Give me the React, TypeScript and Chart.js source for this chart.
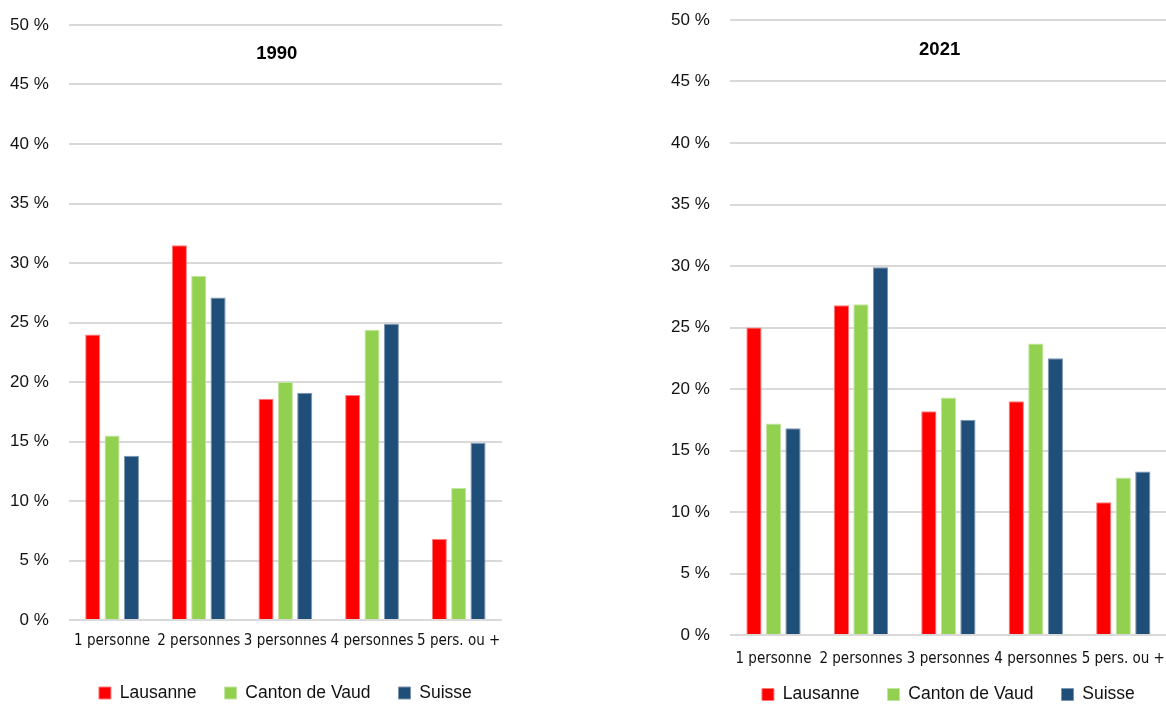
import React, { useEffect, useRef } from "react";
import { Chart, registerables } from "chart.js";

Chart.register(...registerables);

// ---------- data ----------
const categories = ["1 personne", "2 personnes", "3 personnes", "4 personnes", "5 pers. ou +"];
const seriesNames = ["Lausanne", "Canton de Vaud", "Suisse"];

const lausanne1990 = [24.0, 31.5, 18.6, 18.9, 6.8];
const vaud1990 = [15.5, 28.9, 20.0, 24.4, 11.1];
const suisse1990 = [13.8, 27.1, 19.1, 24.9, 14.9];

const lausanne2021 = [25.0, 26.8, 18.2, 19.0, 10.8];
const vaud2021 = [17.2, 26.9, 19.3, 23.7, 12.8];
const suisse2021 = [16.8, 29.9, 17.5, 22.5, 13.3];

const yMin = 0;
const yMax = 50;
const yStep = 5;

// ---------- styles ----------
const barColors = ["#FF0000", "#92D050", "#1F4E79"];
const barBorders = ["#FF7A7A", "#C2E59F", "#7C95B0"];
const TEXT = "#111111";
const SANS = '"Liberation Sans", Arial, sans-serif';
const NARROW = '"DejaVu Sans Condensed", "Liberation Sans", sans-serif';

type PanelProps = {
  title: string;
  series: number[][];
  left: number;
  width: number;
  pad: { left: number; right: number; top: number; bottom: number };
  xTickPad: number;
  legendCenterY: number;
  titleOffsetY: number;
};

const LEGEND_PAD = 28;
const LEGEND_FONT = 17.5;

function Panel(props: PanelProps) {
  const ref = useRef<HTMLCanvasElement>(null);

  useEffect(() => {
    const canvas = ref.current;
    if (!canvas) return;

    const innerTitle = {
      id: "innerTitle",
      afterDraw(chart: any) {
        const { ctx, chartArea } = chart;
        ctx.save();
        ctx.font = `bold 18.5px ${SANS}`;
        ctx.fillStyle = "#000";
        ctx.textAlign = "center";
        ctx.textBaseline = "middle";
        ctx.fillText(
          props.title,
          chartArea.left + chartArea.width * 0.48,
          chartArea.top + props.titleOffsetY
        );
        ctx.restore();
      },
    };

    const legendPlace = {
      id: "legendPlace",
      beforeInit(chart: any) {
        const lg = chart.legend;
        if (!lg) return;
        const orig = lg.fit;
        lg.fit = function () {
          orig.call(this);
          this.height = 30;
        };
      },
      afterLayout(chart: any) {
        const lg = chart.legend;
        const ca = chart.chartArea;
        if (!lg || !ca) return;
        const dx = (ca.left + ca.right) / 2 - (lg.left + lg.right) / 2;
        lg.left += dx;
        lg.right += dx;
        lg.top = props.legendCenterY - LEGEND_FONT / 2 - LEGEND_PAD;
        lg.bottom = chart.height;
        lg.height = lg.bottom - lg.top;
      },
    };

    const chart = new Chart(canvas, {
      type: "bar",
      data: {
        labels: categories,
        datasets: seriesNames.map((name, i) => ({
          label: name,
          data: props.series[i],
          backgroundColor: barColors[i],
          borderColor: barBorders[i],
          borderWidth: 1,
          barPercentage: 0.78,
          categoryPercentage: 0.67,
        })),
      },
      options: {
        responsive: false,
        animation: false,
        layout: { padding: props.pad },
        scales: {
          x: {
            grid: { display: false, drawTicks: false },
            border: { display: false },
            ticks: {
              color: TEXT,
              font: { family: NARROW, size: 15 },
              padding: props.xTickPad,
              maxRotation: 0,
              minRotation: 0,
              autoSkip: false,
            },
            afterFit(scale: any) {
              scale.paddingLeft = 0;
              scale.paddingRight = 0;
              scale.height -= scale.options.ticks.padding;
            },
          },
          y: {
            min: yMin,
            max: yMax,
            ticks: {
              stepSize: yStep,
              padding: 20,
              color: TEXT,
              font: { family: SANS, size: 17 },
              callback: (v: any) => `${v} %`,
            },
            grid: { color: "#D9D9D9", lineWidth: 2, drawTicks: false },
            border: { display: false },
            afterFit(scale: any) {
              scale.paddingTop = 0;
              scale.paddingBottom = 0;
              scale.width -= scale.options.ticks.padding;
            },
          },
        },
        plugins: {
          legend: {
            position: "bottom",
            labels: {
              boxWidth: 12,
              boxHeight: 12,
              padding: LEGEND_PAD,
              color: TEXT,
              font: { family: SANS, size: LEGEND_FONT },
            },
          },
          title: { display: false },
          tooltip: { enabled: false },
        },
      },
      plugins: [innerTitle, legendPlace],
    } as any);

    return () => chart.destroy();
  }, []);

  return (
    <canvas
      ref={ref}
      width={props.width}
      height={704}
      style={{ position: "absolute", left: props.left, top: 0, width: props.width, height: 704 }}
    />
  );
}

export default function App() {
  return (
    <div
      style={{
        position: "absolute",
        left: 0,
        top: 0,
        width: 1166,
        height: 704,
        overflow: "hidden",
        background: "#fff",
      }}
    >
      <Panel
        title="1990"
        series={[lausanne1990, vaud1990, suisse1990]}
        left={0}
        width={510}
        pad={{ left: 10, right: 8, top: 25, bottom: 24 }}
        xTickPad={12}
        legendCenterY={693}
        titleOffsetY={29}
      />
      <Panel
        title="2021"
        series={[lausanne2021, vaud2021, suisse2021]}
        left={660}
        width={515}
        pad={{ left: 11, right: 8, top: 20, bottom: 6 }}
        xTickPad={15}
        legendCenterY={694.5}
        titleOffsetY={30}
      />
    </div>
  );
}
